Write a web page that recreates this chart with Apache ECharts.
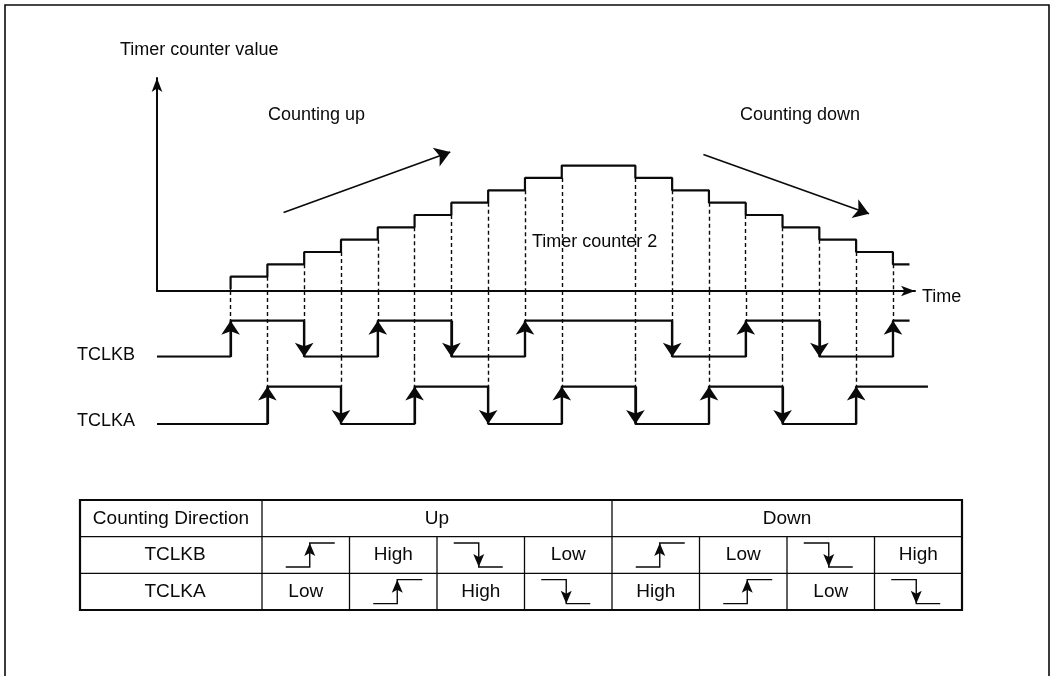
<!DOCTYPE html>
<html>
<head>
<meta charset="utf-8">
<script src="https://cdn.jsdelivr.net/npm/echarts@6/dist/echarts.min.js"></script>
<style>
  html, body { margin: 0; padding: 0; background: #fff; }
  #main { width: 1054px; height: 676px; }
</style>
</head>
<body>
<div id="main"></div>
<script>
// time is in clock-edge units (one unit = one edge period), counter in counts
const counterTimes = [0, 0, 1, 2, 3, 4, 5, 6, 7, 8, 9, 11, 12, 13, 14, 15, 16, 17, 18, 18.45];
const counterValues = [0, 1, 2, 3, 4, 5, 6, 7, 8, 9, 10, 9, 8, 7, 6, 5, 4, 3, 2, 2];
const tclkbTimes = [-2, 0, 2, 4, 6, 8, 12, 14, 16, 18, 18.45];
const tclkbLevels = [0, 1, 0, 1, 0, 1, 0, 1, 0, 1, 1];
const tclkaTimes = [-2, 1, 3, 5, 7, 9, 11, 13, 15, 17, 18.95];
const tclkaLevels = [0, 1, 0, 1, 0, 1, 0, 1, 0, 1, 1];
const trendFrom = [[1.44, 6.2], [12.85, 10.9]];
const trendTo = [[5.97, 11.1], [17.35, 6.1]];
const trendNames = ['Counting up', 'Counting down'];
const directions = ['Up', 'Down'];
const tclkbCells = ['rise', 'High', 'fall', 'Low', 'rise', 'Low', 'fall', 'High'];
const tclkaCells = ['Low', 'rise', 'High', 'fall', 'High', 'rise', 'Low', 'fall'];

const INK = '#0a0a0a';
const FONT = '18px "Liberation Sans", Arial, sans-serif';
const TFONT = '19px "Liberation Sans", Arial, sans-serif';
const Y0_MIN = -0.16, Y0_MAX = 17.1;   // counter grid
const YB_MAX = 1.825, YA_MAX = 1.8;    // clock grids (0 = low, 1 = high)

function pairs(xs, ys) {
  return xs.map((x, i) => [x, ys[i]]);
}
function edgesOf(times, levels) {
  const out = [];
  for (let i = 1; i < times.length; i++) {
    if (levels[i] !== levels[i - 1]) out.push({ t: times[i], up: levels[i] > levels[i - 1] });
  }
  return out;
}
const bEdges = edgesOf(tclkbTimes, tclkbLevels);
const aEdges = edgesOf(tclkaTimes, tclkaLevels);
const counterEdges = [];
for (let i = 1; i < counterTimes.length; i++) {
  if (counterValues[i] !== counterValues[i - 1]) {
    counterEdges.push({ t: counterTimes[i], low: Math.min(counterValues[i], counterValues[i - 1]) });
  }
}
const isB = t => bEdges.some(e => e.t === t);
const isA = t => aEdges.some(e => e.t === t);

const dashCounter = counterEdges.map(e => ({ coords: [[e.t, e.low], [e.t, Y0_MIN]] }));
const dashB = counterEdges.map(e => ({ coords: [[e.t, YB_MAX], [e.t, isB(e.t) ? 1 : 0]] }));
const dashA = counterEdges.filter(e => isA(e.t)).map(e => ({ coords: [[e.t, YA_MAX], [e.t, 1]] }));
const edgeArrows = edges => edges.map(e => ({ coords: e.up ? [[e.t, 0], [e.t, 1]] : [[e.t, 1], [e.t, 0]] }));

const dashStyle = { color: INK, width: 1.4, type: [4, 3], opacity: 1 };
const solid = { color: INK, width: 2.2 };

function lineSeries(axis, data) {
  return {
    type: 'line', xAxisIndex: axis, yAxisIndex: axis, step: 'end',
    data: data, symbol: 'none', lineStyle: solid, silent: true, z: 3
  };
}
function linesSeries(axis, data, style, arrow, size) {
  return {
    type: 'lines', coordinateSystem: 'cartesian2d', xAxisIndex: axis, yAxisIndex: axis,
    data: data, lineStyle: style, symbol: arrow ? ['none', 'arrow'] : 'none',
    symbolSize: size || 10, silent: true, z: 2
  };
}

// ---- graphic: frame, labels, table ----
function label(text, x, y, align, font) {
  return {
    type: 'text', x: x, y: y, silent: true,
    style: { text: text, font: font || FONT, fill: INK, textAlign: align || 'left', textVerticalAlign: 'middle',
             align: align || 'left', verticalAlign: 'middle' }
  };
}
function seg(x1, y1, x2, y2, w) {
  return { type: 'line', silent: true, shape: { x1, y1, x2, y2 }, style: { stroke: INK, lineWidth: w || 1.3 } };
}
function head(x, y, dir) { // dir 1 = points up, -1 = points down
  return {
    type: 'polygon', silent: true,
    shape: { points: [[x, y], [x + 5.5, y + 13 * dir], [x, y + 10 * dir], [x - 5.5, y + 13 * dir]] },
    style: { fill: INK }
  };
}
function stepIcon(cx, cy, up) {
  const hi = cy - 12, lo = cy + 12;
  const pts = up
    ? [[cx - 20, lo], [cx + 4, lo], [cx + 4, hi], [cx + 29, hi]]
    : [[cx - 27, hi], [cx - 2, hi], [cx - 2, lo], [cx + 22, lo]];
  return [
    { type: 'polyline', silent: true, shape: { points: pts }, style: { stroke: INK, lineWidth: 1.4, fill: null } },
    up ? head(cx + 4, hi, 1) : head(cx - 2, lo, -1)
  ];
}

const tx0 = 80, tx1 = 262, tx2 = 962;
const ty = [500, 536.7, 573.3, 610];
const colW = (tx2 - tx1) / 8;
const tableEls = [];
tableEls.push({ type: 'rect', silent: true, shape: { x: tx0, y: ty[0], width: tx2 - tx0, height: ty[3] - ty[0] },
                style: { fill: null, stroke: INK, lineWidth: 2.2 } });
tableEls.push(seg(tx0, ty[1], tx2, ty[1]), seg(tx0, ty[2], tx2, ty[2]));
tableEls.push(seg(tx1, ty[0], tx1, ty[3]));
for (let c = 1; c < 8; c++) {
  const x = tx1 + c * colW;
  tableEls.push(seg(x, c === 4 ? ty[0] : ty[1], x, ty[3]));
}
tableEls.push(label('Counting Direction', (tx0 + tx1) / 2, (ty[0] + ty[1]) / 2, 'center', TFONT));
directions.forEach((d, i) => tableEls.push(label(d, tx1 + colW * (4 * i + 2), (ty[0] + ty[1]) / 2, 'center', TFONT)));
[['TCLKB', tclkbCells], ['TCLKA', tclkaCells]].forEach(([name, cells], r) => {
  const cy = (ty[r + 1] + ty[r + 2]) / 2;
  tableEls.push(label(name, (tx0 + tx1) / 2 + 4, cy, 'center', TFONT));
  cells.forEach((v, c) => {
    const cx = tx1 + colW * (c + 0.5);
    if (v === 'rise' || v === 'fall') tableEls.push(...stepIcon(cx, cy, v === 'rise'));
    else tableEls.push(label(v, cx, cy, 'center', TFONT));
  });
});

const option = {
  animation: false,
  backgroundColor: '#fff',
  grid: [
    { left: 157, width: 758, top: 78, height: 213 },
    { left: 157, width: 772.8, top: 291, height: 65.7 },
    { left: 157, width: 772.8, top: 356.7, height: 67.3 }
  ],
  xAxis: [
    { gridIndex: 0, type: 'value', min: -2, max: 18.6,
      axisLine: { onZero: false, symbol: ['none', 'arrow'], symbolSize: [8, 14], lineStyle: { color: INK, width: 2 } },
      axisTick: { show: false }, axisLabel: { show: false }, splitLine: { show: false } },
    { gridIndex: 1, type: 'value', min: -2, max: 19, show: false },
    { gridIndex: 2, type: 'value', min: -2, max: 19, show: false }
  ],
  yAxis: [
    { gridIndex: 0, type: 'value', min: Y0_MIN, max: Y0_MAX,
      axisLine: { show: true, onZero: false, symbol: ['none', 'arrow'], symbolSize: [8, 14], lineStyle: { color: INK, width: 2 } },
      axisTick: { show: false }, axisLabel: { show: false }, splitLine: { show: false } },
    { gridIndex: 1, type: 'value', min: 0, max: YB_MAX, show: false },
    { gridIndex: 2, type: 'value', min: 0, max: YA_MAX, show: false }
  ],
  series: [
    lineSeries(0, pairs(counterTimes, counterValues)),
    lineSeries(1, pairs(tclkbTimes, tclkbLevels)),
    lineSeries(2, pairs(tclkaTimes, tclkaLevels)),
    linesSeries(0, dashCounter, dashStyle),
    linesSeries(1, dashB, dashStyle),
    linesSeries(2, dashA, dashStyle),
    linesSeries(1, edgeArrows(bEdges), { color: INK, width: 2.2, opacity: 1 }, true, [8.5, 14]),
    linesSeries(2, edgeArrows(aEdges), { color: INK, width: 2.2, opacity: 1 }, true, [8.5, 14]),
    linesSeries(0, trendFrom.map((p, i) => ({ name: trendNames[i], coords: [p, trendTo[i]] })),
                { color: INK, width: 1.7, opacity: 1 }, true, [8.5, 15])
  ],
  graphic: [
    { type: 'rect', silent: true, shape: { x: 5, y: 5, width: 1044, height: 700 },
      style: { fill: null, stroke: INK, lineWidth: 1.6 } },
    label('Timer counter value', 120, 50),
    label(trendNames[0], 268, 115),
    label(trendNames[1], 740, 115),
    label('Timer counter 2', 532, 242),
    label('Time', 922, 297),
    label('TCLKB', 77, 355),
    label('TCLKA', 77, 421)
  ].concat(tableEls)
};

const chart = echarts.init(document.getElementById('main'));
chart.setOption(option);
</script>
</body>
</html>
